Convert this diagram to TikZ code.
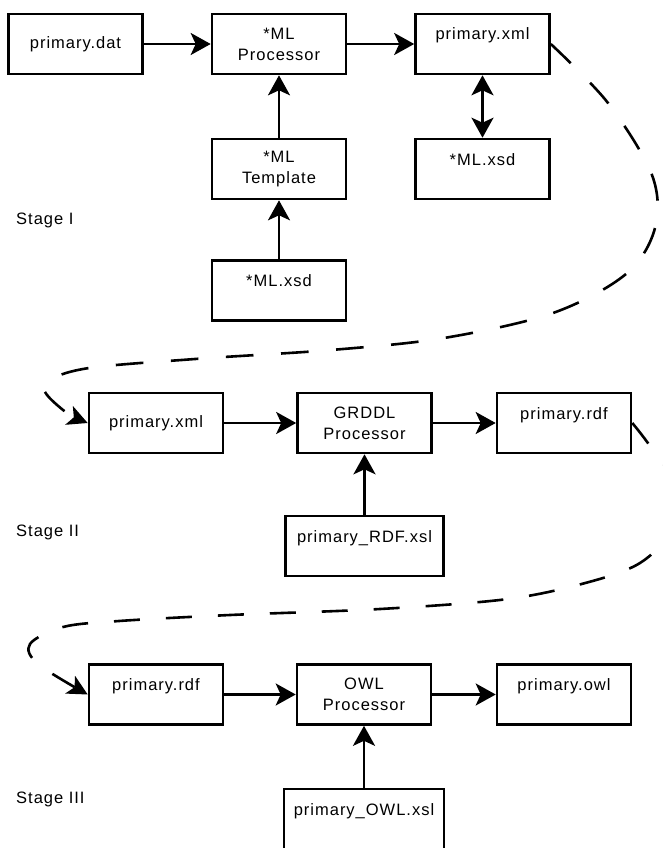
\documentclass[tikz,border=0pt]{standalone}
\usepackage{fontspec}
\setmainfont{Liberation Sans}[LetterSpace=6]
\usetikzlibrary{arrows.meta}
\begin{document}
\begin{tikzpicture}[x=1pt,y=-1pt,
  lbl/.style={font=\fontsize{16.5}{21}\selectfont},
  box/.style={lbl, draw, line width=2.6pt, inner sep=0pt, align=center,
    minimum height=60pt, minimum width=134pt},
  upper/.style={text height=12pt, text depth=20pt},
  flow/.style={line width=2.6pt, -{Stealth[length=20pt,width=22pt,inset=5pt]}},
  both/.style={line width=2.6pt, {Stealth[length=20pt,width=22pt,inset=5pt]}-{Stealth[length=20pt,width=22pt,inset=5pt]}},
  jump/.style={line width=2.6pt, dash pattern=on 27pt off 27pt,
    -{Stealth[length=20pt,width=20pt,inset=5pt]}},
  stage/.style={lbl, anchor=west, inner sep=0pt}
]
\clip (0,0) rectangle (663,848);
\fill[white] (0,0) rectangle (663,848);

% Stage I
\node[box] (dat) at (75.5,44) {primary.dat};
\node[box] (mlp) at (279,44) {*ML\\Processor};
\node[box,upper] (xmlA) at (482.5,44) {primary.xml};
\node[box,upper] (xsdA) at (482.5,169) {*ML.xsd};
\node[box] (tpl) at (279,169) {*ML\\Template};
\node[box,upper] (xsdB) at (279,290.5) {*ML.xsd};
\node[stage] (s1) at (16,220) {Stage I};

% Stage II
\node[box] (xmlB) at (156,423) {primary.xml};
\node[box] (grddl) at (364.5,423) {GRDDL\\Processor};
\node[box,upper] (rdfA) at (564,423) {primary.rdf};
\node[box,upper,minimum width=158pt] (rdfxsl) at (364.5,546) {primary\_RDF.xsl};
\node[stage] (s2) at (16,532) {Stage II};

% Stage III
\node[box,upper] (rdfB) at (156,694.5) {primary.rdf};
\node[box] (owlp) at (364,694.5) {OWL\\Processor};
\node[box,upper] (owl) at (564,694.5) {primary.owl};
\node[box,upper,minimum width=160pt] (owlxsl) at (364,819) {primary\_OWL.xsl};
\node[stage] (s3) at (16,799) {Stage III};

% connectors
\draw[flow] (dat) -- (mlp);
\draw[flow] (mlp) -- (xmlA);
\draw[both] (xmlA) -- (xsdA);
\draw[flow] (tpl) -- (mlp);
\draw[flow] (xsdB) -- (tpl);
\draw[flow] (xmlB) -- (grddl);
\draw[flow] (grddl) -- (rdfA);
\draw[flow] (rdfxsl) -- (grddl);
\draw[flow] (rdfB) -- (owlp);
\draw[flow] (owlp) -- (owl);
\draw[flow] (owlxsl) -- (owlp);

% hand-over between stages
\draw[jump, dash pattern=on 27.6pt off 27.6pt] plot[smooth, tension=0.55]
  coordinates {(xmlA.east) (608,103) (652,175)
  (655,228) (626,274) (553,313) (444,338) (331,350) (195,359) (83,369) (44,386)
  (63,410) (xmlB.west)};
\draw[jump, dash pattern=on 26pt off 26pt] plot[smooth, tension=0.55]
  coordinates {(rdfA.east) (650,446) (680,492)
  (670,532) (640,563) (589,582) (508,599) (380,609) (230,615) (119,621) (63,627)
  (30,644) (38,664) (rdfB.west)};
\end{tikzpicture}
\end{document}
